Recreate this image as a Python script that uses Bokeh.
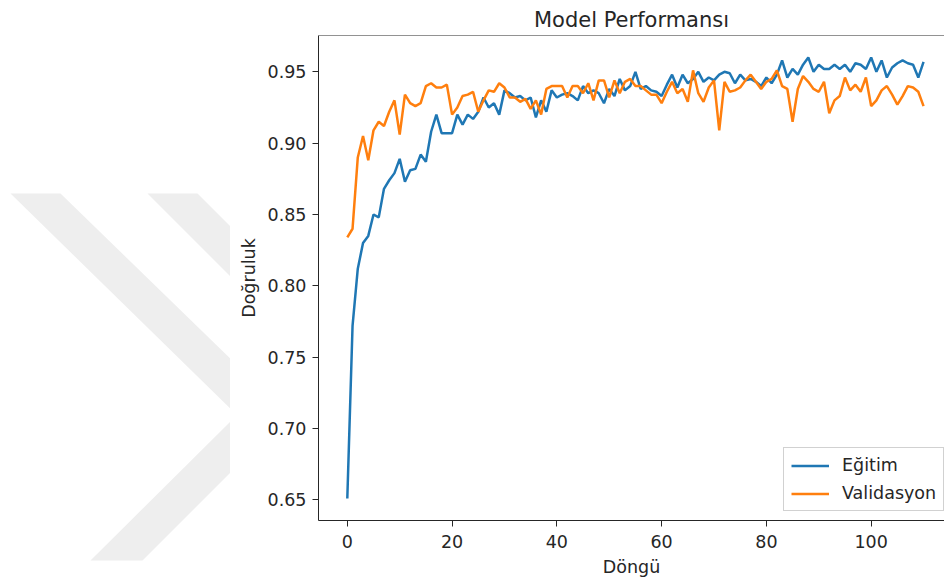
from bokeh.plotting import figure
from bokeh.models import Range1d, FixedTicker, PrintfTickFormatter, Legend, LegendItem, Span
from bokeh.layouts import row
from bokeh.embed import file_html
from bokeh.resources import INLINE

# ---------------- data ----------------
epochs = list(range(111))
egitim = [
    0.651, 0.772, 0.812, 0.830, 0.835, 0.850, 0.848, 0.868, 0.874, 0.879,
    0.889, 0.873, 0.881, 0.882, 0.892, 0.887, 0.908, 0.920, 0.907, 0.907,
    0.907, 0.920, 0.913, 0.920, 0.917, 0.922, 0.932, 0.925, 0.928, 0.920,
    0.937, 0.935, 0.932, 0.933, 0.930, 0.932, 0.918, 0.930, 0.922, 0.937,
    0.932, 0.934, 0.935, 0.933, 0.930, 0.940, 0.935, 0.937, 0.935, 0.928,
    0.938, 0.933, 0.945, 0.937, 0.940, 0.950, 0.938, 0.940, 0.937, 0.936,
    0.933, 0.941, 0.948, 0.939, 0.948, 0.942, 0.945, 0.950, 0.943, 0.946,
    0.944, 0.948, 0.950, 0.949, 0.942, 0.948, 0.944, 0.945, 0.943, 0.940,
    0.946, 0.942, 0.948, 0.958, 0.946, 0.952, 0.948, 0.955, 0.960, 0.950,
    0.955, 0.952, 0.952, 0.955, 0.952, 0.955, 0.950, 0.956, 0.955, 0.952,
    0.960, 0.950, 0.958, 0.946, 0.953, 0.956, 0.958, 0.956, 0.955, 0.946,
    0.957,
]
validasyon = [
    0.834, 0.840, 0.890, 0.905, 0.888, 0.909, 0.915, 0.912, 0.922, 0.930,
    0.906, 0.934, 0.928, 0.926, 0.928, 0.940, 0.942, 0.939, 0.939, 0.941,
    0.920, 0.925, 0.933, 0.934, 0.936, 0.922, 0.930, 0.937, 0.936, 0.942,
    0.939, 0.932, 0.932, 0.929, 0.931, 0.924, 0.930, 0.920, 0.938, 0.940,
    0.940, 0.940, 0.932, 0.940, 0.940, 0.935, 0.942, 0.930, 0.944, 0.944,
    0.932, 0.944, 0.935, 0.943, 0.945, 0.940, 0.940, 0.937, 0.934, 0.934,
    0.928, 0.936, 0.943, 0.935, 0.938, 0.929, 0.951, 0.935, 0.929, 0.939,
    0.944, 0.909, 0.943, 0.936, 0.937, 0.939, 0.944, 0.948, 0.943, 0.938,
    0.943, 0.945, 0.951, 0.940, 0.938, 0.915, 0.938, 0.947, 0.943, 0.938,
    0.936, 0.943, 0.921, 0.930, 0.933, 0.946, 0.937, 0.941, 0.936, 0.946,
    0.926, 0.930, 0.937, 0.940, 0.934, 0.927, 0.933, 0.940, 0.939, 0.936,
    0.926,
]
x_ticks = [0, 20, 40, 60, 80, 100]
y_ticks = [0.65, 0.70, 0.75, 0.80, 0.85, 0.90, 0.95]
title_text = "Model Performansı"
x_label = "Döngü"
y_label = "Doğruluk"
series_names = ["Eğitim", "Validasyon"]

FONT = "DejaVu Sans"
TXT = "#262626"

# ---------------- watermark panel (background decoration, page pixel coords) ----------------
# the row aligns this panel's frame top with the chart frame top (page y = 35)
wm = figure(title=None, frame_width=230, frame_height=583,
            x_range=Range1d(0, 230), y_range=Range1d(618, 35),
            output_backend="svg", toolbar_location=None,
            x_axis_location=None, y_axis_location=None,
            min_border=0, outline_line_color=None)
wm.grid.visible = False
wm_xs = [[10, 60, 240, 240], [147, 197, 240, 240], [240, 240, 142, 90]]
wm_ys = [[193, 193, 368, 418], [193, 193, 236, 286], [411, 462, 560, 560]]
wm.patches(wm_xs, wm_ys, fill_color="#eeeeee", line_color=None)

# ---------------- main chart ----------------
ymin = min(min(egitim), min(validasyon))
ymax = max(max(egitim), max(validasyon))
pad = 0.05 * (ymax - ymin)

p = figure(width=714, height=583, output_backend="svg", toolbar_location=None,
           x_range=Range1d(-5.5, 114.0), y_range=Range1d(ymin - pad, ymax + pad),
           min_border_left=88, min_border_right=0, min_border_top=35, min_border_bottom=63,
           outline_line_color=None)
p.grid.visible = False

p.title.text = title_text
p.title.align = "center"
p.title.text_font = FONT
p.title.text_font_size = "21px"
p.title.text_font_style = "normal"
p.title.text_color = TXT
p.title.standoff = 8

for ax in (p.xaxis[0], p.yaxis[0]):
    ax.major_label_text_font = FONT
    ax.major_label_text_font_size = "17.5px"
    ax.major_label_text_color = TXT
    ax.axis_label_text_font = FONT
    ax.axis_label_text_font_size = "17.5px"
    ax.axis_label_text_font_style = "normal"
    ax.axis_label_text_color = TXT
    ax.axis_line_color = "#262626"
    ax.major_tick_line_color = "#262626"
    ax.major_tick_out = 6
    ax.major_tick_in = 0
    ax.minor_tick_line_color = None

p.xaxis.major_label_standoff = 8
p.yaxis.major_label_standoff = 6
p.xaxis.ticker = FixedTicker(ticks=x_ticks)
p.yaxis.ticker = FixedTicker(ticks=y_ticks)
p.yaxis.formatter = PrintfTickFormatter(format="%.2f")
p.xaxis.axis_label = x_label
p.yaxis.axis_label = y_label
p.xaxis.axis_label_standoff = 6
p.yaxis.axis_label_standoff = 6

# top spine
p.add_layout(Span(location=ymax + pad, dimension="width", line_color="#262626", line_width=1))

r1 = p.line(epochs, egitim, line_color="#1f77b4", line_width=2.5)
r2 = p.line(epochs, validasyon, line_color="#ff7f0e", line_width=2.5)

legend = Legend(items=[LegendItem(label=series_names[0], renderers=[r1]),
                       LegendItem(label=series_names[1], renderers=[r2])],
                location=(465, 9))
legend.label_text_font = FONT
legend.label_text_font_size = "17.5px"
legend.label_text_color = TXT
legend.glyph_width = 38
legend.glyph_height = 19
legend.label_height = 19
legend.label_standoff = 13
legend.spacing = 8
legend.padding = 7
legend.margin = 0
legend.border_line_color = "#cccccc"
legend.border_line_alpha = 0.9
legend.background_fill_alpha = 0.8
p.add_layout(legend)

layout = row(wm, p)
open("out.html", "w").write(file_html(layout, INLINE))
